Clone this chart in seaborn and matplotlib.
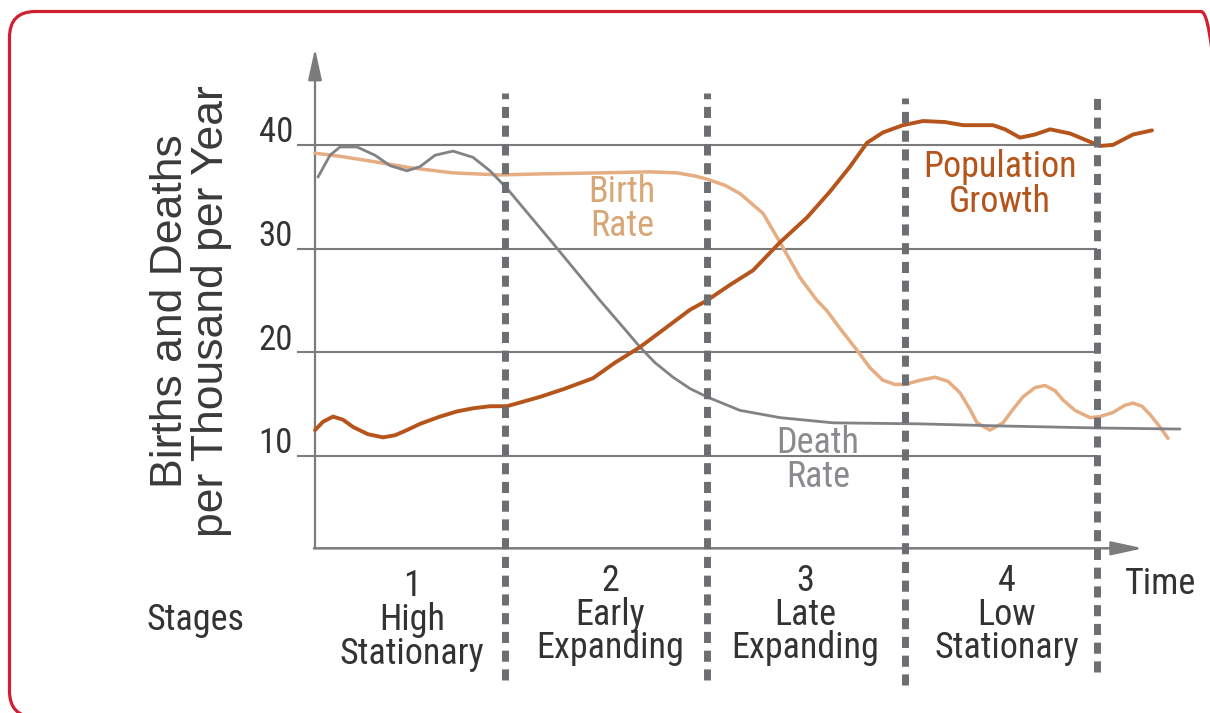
import numpy as np
import pandas as pd
import seaborn as sns
import matplotlib
matplotlib.use("Agg")
import matplotlib.pyplot as plt
from matplotlib.patches import FancyBboxPatch
from matplotlib.transforms import IdentityTransform
from matplotlib import font_manager as fm

# ---------------- data (time in arbitrary units, rates per thousand) ----------------
death_t = [0.3, 1.5, 2.5, 4.2, 6.0, 7.5, 9.2, 10.5, 12.0, 13.8, 15.8, 17.5, 19.2, 20.5,
           22.5, 23.8, 28.5, 31.0, 32.5, 34.0, 35.8, 37.5, 39.2, 42.5, 46.5, 51.8,
           60.5, 68.5, 78.5, 86.5]
death_v = [36.9, 39.0, 39.8, 39.8, 39.0, 38.0, 37.5, 37.9, 39.0, 39.4, 38.8, 37.5, 35.8, 34.3,
           32.0, 30.5, 25.0, 22.2, 20.5, 19.0, 17.6, 16.5, 15.7, 14.4, 13.7, 13.2,
           13.1, 12.9, 12.7, 12.6]

birth_t = [0, 2.5, 5.8, 9.5, 13.8, 18.5, 22.5, 28.5, 33.5, 36.2, 38.0, 39.2, 41.0, 42.5,
           44.8, 46.5, 48.5, 50.2, 51.2, 52.5, 54.2, 55.5, 56.8, 58.0, 59.0, 60.5, 62.0,
           63.3, 64.5, 65.5, 66.2, 67.5, 68.8, 69.8, 70.8, 72.0, 73.0, 74.0, 74.8, 76.0,
           77.5, 78.5, 79.8, 81.0, 81.8, 82.7, 83.5, 84.5, 85.3]
birth_v = [39.2, 38.9, 38.4, 37.8, 37.3, 37.1, 37.2, 37.3, 37.4, 37.3, 37.0, 36.7, 36.1, 35.3,
           33.4, 30.6, 27.2, 25.0, 24.0, 22.3, 20.2, 18.5, 17.3, 16.9, 16.9, 17.3, 17.6,
           17.2, 16.1, 14.5, 13.2, 12.5, 13.2, 14.5, 15.7, 16.6, 16.8, 16.3, 15.4, 14.4,
           13.7, 13.8, 14.2, 14.9, 15.1, 14.8, 14.0, 12.8, 11.7]

pop_t = [0, 0.8, 1.8, 2.8, 3.8, 5.3, 6.8, 8.0, 9.2, 10.5, 12.5, 14.2, 15.8, 17.5, 19.2,
         22.5, 25.0, 27.8, 30.0, 32.5, 35.0, 37.5, 39.2, 41.5, 43.8, 46.5, 49.2, 51.5,
         53.5, 55.2, 56.8, 58.8, 60.8, 63.0, 64.8, 67.8, 69.0, 70.5, 72.0, 73.5, 75.5,
         77.0, 78.5, 79.8, 81.8, 83.7]
pop_v = [12.5, 13.3, 13.8, 13.5, 12.8, 12.1, 11.8, 12.0, 12.5, 13.1, 13.8, 14.3, 14.6, 14.8,
         14.8, 15.7, 16.5, 17.5, 19.0, 20.5, 22.3, 24.1, 25.0, 26.5, 27.9, 30.6, 33.0, 35.5,
         37.9, 40.2, 41.2, 41.9, 42.3, 42.2, 41.9, 41.9, 41.5, 40.7, 41.0, 41.5, 41.1,
         40.5, 39.9, 40.0, 41.0, 41.4]

y_ticks = [10, 20, 30, 40]
stage_bounds = [19.0, 39.2, 59.0, 78.2]
stage_labels = ["1\nHigh\nStationary", "2\nEarly\nExpanding",
                "3\nLate\nExpanding", "4\nLow\nStationary"]
stage_centers = [9.7, 29.5, 49.0, 69.2]

series_names = ["Birth Rate", "Death Rate", "Population Growth"]

# ---------------- styling ----------------
sns.set_theme(style="white")

# pick a narrow font if available
names = {f.name for f in fm.fontManager.ttflist}
narrow_fp = None
for cand in ["Liberation Sans Narrow", "Roboto Condensed", "Open Sans Condensed",
             "Noto Sans Condensed", "DejaVu Sans Condensed"]:
    if cand in names:
        narrow_fp = dict(family=[cand, "DejaVu Sans"])
        break
if narrow_fp is None:
    narrow_fp = dict(family=["Liberation Sans", "DejaVu Sans"])
plt.rcParams["font.family"] = narrow_fp["family"]
NARROW = narrow_fp

C_POP = "#b5541b"
C_BIRTH = "#e6ad82"
C_DEATH = "#808285"
C_GRID = "#7b7b7b"
C_DIV = "#6d6e71"
C_TEXT = "#333333"

fig = plt.figure(figsize=(12.1, 7.13), dpi=100)
fig.patch.set_facecolor("white")
ax = fig.add_axes([0, 0, 1, 1])

# gridlines
ax.hlines(y_ticks, -1.8, stage_bounds[-1], colors=C_GRID, lw=1.5, zorder=1)
for v in y_ticks:
    ax.text(-2.2, v + 0.25, str(v), ha="right", va="baseline", fontsize=25,
            color=C_TEXT, **NARROW)

# axes with arrows
ax.annotate("", xy=(0, 49.3), xytext=(0, 1.1),
            arrowprops=dict(arrowstyle="-|>,head_length=1.6,head_width=0.35",
                            color=C_GRID, lw=1.6, mutation_scale=12,
                            shrinkA=0, shrinkB=0), zorder=2)
ax.annotate("", xy=(82.8, 1.1), xytext=(-0.1, 1.1),
            arrowprops=dict(arrowstyle="-|>,head_length=1.6,head_width=0.35",
                            color=C_GRID, lw=1.8, mutation_scale=12,
                            shrinkA=0, shrinkB=0), zorder=2)

# curves
df = pd.concat([
    pd.DataFrame({"t": birth_t, "rate": birth_v, "series": series_names[0]}),
    pd.DataFrame({"t": death_t, "rate": death_v, "series": series_names[1]}),
    pd.DataFrame({"t": pop_t, "rate": pop_v, "series": series_names[2]}),
])
palette = {series_names[0]: C_BIRTH, series_names[1]: C_DEATH, series_names[2]: C_POP}
for name, lw in zip(series_names, [2.5, 2.0, 2.8]):
    sns.lineplot(data=df[df["series"] == name], x="t", y="rate", color=palette[name],
                 lw=lw, sort=False, estimator=None, ax=ax, legend=False, zorder=3,
                 solid_capstyle="round", solid_joinstyle="round")
ax.set_xlim(-31.5, 89.5)
ax.set_ylim(-14.78, 53.97)
ax.axis("off")

# stage dividers
div_top = [45.0, 45.0, 44.5, 45.0]
div_bot = [-11.6, -11.6, -12.1, -10.8]
for x, t, b in zip(stage_bounds, div_top, div_bot):
    ax.plot([x, x], [b, t], color=C_DIV, lw=5.0, linestyle=(0, (1.6, 1.1)),
            solid_capstyle="butt", dash_capstyle="butt", zorder=4)

# series annotations
ax.text(30.7, 33.8, "Birth\nRate", ha="center", va="center", fontsize=26,
        color="#d9a676", linespacing=0.95, zorder=5, **NARROW)
ax.text(68.5, 36.2, "Population\nGrowth", ha="center", va="center", fontsize=26,
        color=C_POP, linespacing=0.95, zorder=5, **NARROW)
ax.text(50.3, 9.6, "Death\nRate", ha="center", va="center", fontsize=26,
        color="#8a8b8e", linespacing=0.95, zorder=5, **NARROW)

# stage labels
stage_y = [-5.8, -5.3, -5.3, -5.3]
for xc, yc, lab in zip(stage_centers, stage_y, stage_labels):
    ax.text(xc, yc, lab, ha="center", va="center", fontsize=26, color=C_TEXT,
            linespacing=0.92, **NARROW)
ax.text(-12.0, -5.8, "Stages", ha="center", va="center", fontsize=26, color=C_TEXT, **NARROW)
ax.text(84.5, -2.3, "Time", ha="center", va="center", fontsize=26, color=C_TEXT, **NARROW)

# y label
ax.text(-12.4, 24.0, "Births and Deaths\nper Thousand per Year", rotation=90,
        ha="center", va="center", fontsize=32, color="#3a3a3a", linespacing=0.98,
        family=["Liberation Sans", "DejaVu Sans"])

# red rounded frame
frame = FancyBboxPatch((9.5, -4), 1217.5, 705.5,
                       boxstyle="round,pad=0,rounding_size=26",
                       transform=IdentityTransform(), fill=False,
                       edgecolor="#d0202e", lw=2.3, zorder=10)
fig.patches.append(frame)

fig.savefig("out.png", dpi=100)
